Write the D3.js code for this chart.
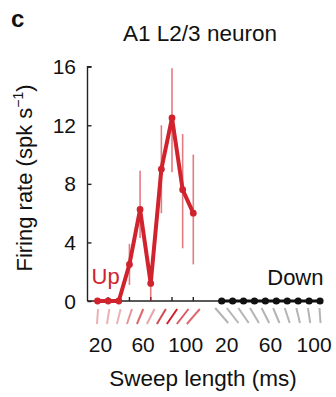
<!DOCTYPE html>
<html>
<head>
<meta charset="utf-8">
<script src="https://cdn.jsdelivr.net/npm/d3@7"></script>
<style>
  body { margin: 0; background: #fff; }
  svg { display: block; font-family: "Liberation Sans", Arial, sans-serif; }
</style>
</head>
<body>
<svg id="chart" width="336" height="397"></svg>
<script>
// sweep lengths (ms), one point per stimulus
const sweepLengths = [20, 30, 40, 50, 60, 70, 80, 90, 100, 110]
// upward sweeps: mean firing rate and error bar ends (spk/s)
const upRate = [0, 0, 0, 2.5, 6.25, 1.2, 9.0, 12.5, 7.6, 6.0]
const upLow  = [0, 0, 0, 1.1, 4.3, 0, 6.0, 8.8, 3.6, 2.5]
const upHigh = [0, 0, 0, 3.9, 8.9, 2.4, 12.0, 15.9, 11.4, 10.0]
// downward sweeps: no response
const downRate = [0, 0, 0, 0, 0, 0, 0, 0, 0, 0]
// stimulus glyph order under the down points (long to short)
const downGlyphLengths = [110, 100, 90, 80, 70, 60, 50, 40, 30, 20]
const upTicks = [30, 50, 70, 90, 110]
const xTickLabels = [20, 60, 100]
const yTicks = [0, 4, 8, 12, 16]

const svg = d3.select('#chart')
const red = '#d0232d'

let y = d3.scaleLinear().domain([0, 16]).range([301, 66.7])
let xUp = d3.scaleLinear().domain([20, 110]).range([97.5, 193.3])
let xDown = d3.scaleLinear().domain([20, 110]).range([221.7, 320])
let glyphW = d3.scaleLinear().domain([20, 110]).range([1, 13])
let upShade = d3.scaleLinear().domain([0, 12.5]).range(['#ecb2b2', '#cc1f2a'])

// y axis, ticks pointing inward
let yAxis = d3.axisRight(y).tickValues(yTicks).tickSize(4).tickFormat('')
svg.append('g')
  .attr('transform', 'translate(87.5,0)')
  .call(yAxis)
  .call(g => g.select('.domain').attr('d', `M4,${y(16)}H0V${y(0)}`))
  .call(g => g.selectAll('line, path').attr('stroke', '#222').attr('stroke-width', 1.4))

svg.append('g').selectAll('text')
  .data(yTicks).enter().append('text')
  .attr('x', 76)
  .attr('y', d => y(d))
  .attr('dy', '0.36em')
  .attr('text-anchor', 'end')
  .attr('font-size', 21)
  .attr('fill', '#111')
  .text(d => d)

// x axis line running under both groups
svg.append('line')
  .attr('x1', 87.5).attr('x2', xDown(110))
  .attr('y1', y(0)).attr('y2', y(0))
  .attr('stroke', '#222').attr('stroke-width', 1.4)

svg.append('g').selectAll('line')
  .data(upTicks).enter().append('line')
  .attr('x1', d => xUp(d)).attr('x2', d => xUp(d))
  .attr('y1', y(0)).attr('y2', y(0) - 4)
  .attr('stroke', '#222').attr('stroke-width', 1.4)

// stimulus glyphs
let glyphTop = 309, glyphBot = 324
svg.append('g').selectAll('line')
  .data(sweepLengths).enter().append('line')
  .attr('x1', d => xUp(d) - glyphW(d) / 2)
  .attr('x2', d => xUp(d) + glyphW(d) / 2)
  .attr('y1', glyphBot).attr('y2', glyphTop)
  .attr('stroke', (d, i) => upShade(upRate[i]))
  .attr('stroke-width', 2)

svg.append('g').selectAll('line')
  .data(sweepLengths).enter().append('line')
  .attr('x1', (d, i) => xDown(d) - glyphW(downGlyphLengths[i]) / 2)
  .attr('x2', (d, i) => xDown(d) + glyphW(downGlyphLengths[i]) / 2)
  .attr('y1', glyphTop - 1).attr('y2', glyphBot - 1)
  .attr('stroke', '#b4b4b4')
  .attr('stroke-width', 2)

// error bars
svg.append('g').selectAll('line')
  .data(sweepLengths).enter().append('line')
  .attr('x1', d => xUp(d)).attr('x2', d => xUp(d))
  .attr('y1', (d, i) => y(upLow[i])).attr('y2', (d, i) => y(upHigh[i]))
  .attr('stroke', red).attr('stroke-opacity', 0.6)
  .attr('stroke-width', 1.6)

// up series
let upLine = d3.line().x(d => xUp(d[0])).y(d => y(d[1]))
let upPts = d3.zip(sweepLengths, upRate)
svg.append('path')
  .datum(upPts)
  .attr('d', upLine)
  .attr('fill', 'none').attr('stroke', red)
  .attr('stroke-width', 4).attr('stroke-linejoin', 'round')
svg.append('g').selectAll('circle')
  .data(upPts).enter().append('circle')
  .attr('cx', d => xUp(d[0])).attr('cy', d => y(d[1]))
  .attr('r', 3.4).attr('fill', red)

// down series
let downLine = d3.line().x(d => xDown(d[0])).y(d => y(d[1]))
let downPts = d3.zip(sweepLengths, downRate)
svg.append('path')
  .datum(downPts)
  .attr('d', downLine)
  .attr('fill', 'none').attr('stroke', '#111').attr('stroke-width', 3)
svg.append('g').selectAll('circle')
  .data(downPts).enter().append('circle')
  .attr('cx', d => xDown(d[0])).attr('cy', d => y(d[1]))
  .attr('r', 3.6).attr('fill', '#111')

// x tick labels
svg.append('g').selectAll('text')
  .data(xTickLabels).enter().append('text')
  .attr('x', d => xUp(d) + 3)
  .attr('y', 352)
  .attr('text-anchor', 'middle').attr('font-size', 21).attr('fill', '#111')
  .text(d => d)
svg.append('g').selectAll('text')
  .data(xTickLabels).enter().append('text')
  .attr('x', d => xDown(d) + 5)
  .attr('y', 352)
  .attr('text-anchor', 'middle').attr('font-size', 21).attr('fill', '#111')
  .text(d => d)

// labels
svg.append('text').attr('x', 91.5).attr('y', 284)
  .attr('font-size', 22).attr('fill', red).text('Up')
svg.append('text').attr('x', 323.5).attr('y', 285)
  .attr('text-anchor', 'end').attr('font-size', 22).attr('fill', '#111').text('Down')

svg.append('text').attr('x', 203).attr('y', 386)
  .attr('text-anchor', 'middle').attr('font-size', 22.5).attr('fill', '#111')
  .text('Sweep length (ms)')

let yl = svg.append('text')
  .attr('transform', 'translate(32,178) rotate(-90)')
  .attr('text-anchor', 'middle').attr('font-size', 22).attr('fill', '#111')
yl.append('tspan').text('Firing rate (spk s')
yl.append('tspan').attr('font-size', 14).attr('dy', -9).text('\u22121')
yl.append('tspan').attr('dy', 9).text(')')

svg.append('text').attr('x', 200).attr('y', 41)
  .attr('text-anchor', 'middle').attr('font-size', 22.5).attr('fill', '#111')
  .text('A1 L2/3 neuron')

svg.append('text').attr('x', 11).attr('y', 27)
  .attr('font-size', 24).attr('font-weight', 'bold').attr('fill', '#111')
  .text('c')
</script>
</body>
</html>
